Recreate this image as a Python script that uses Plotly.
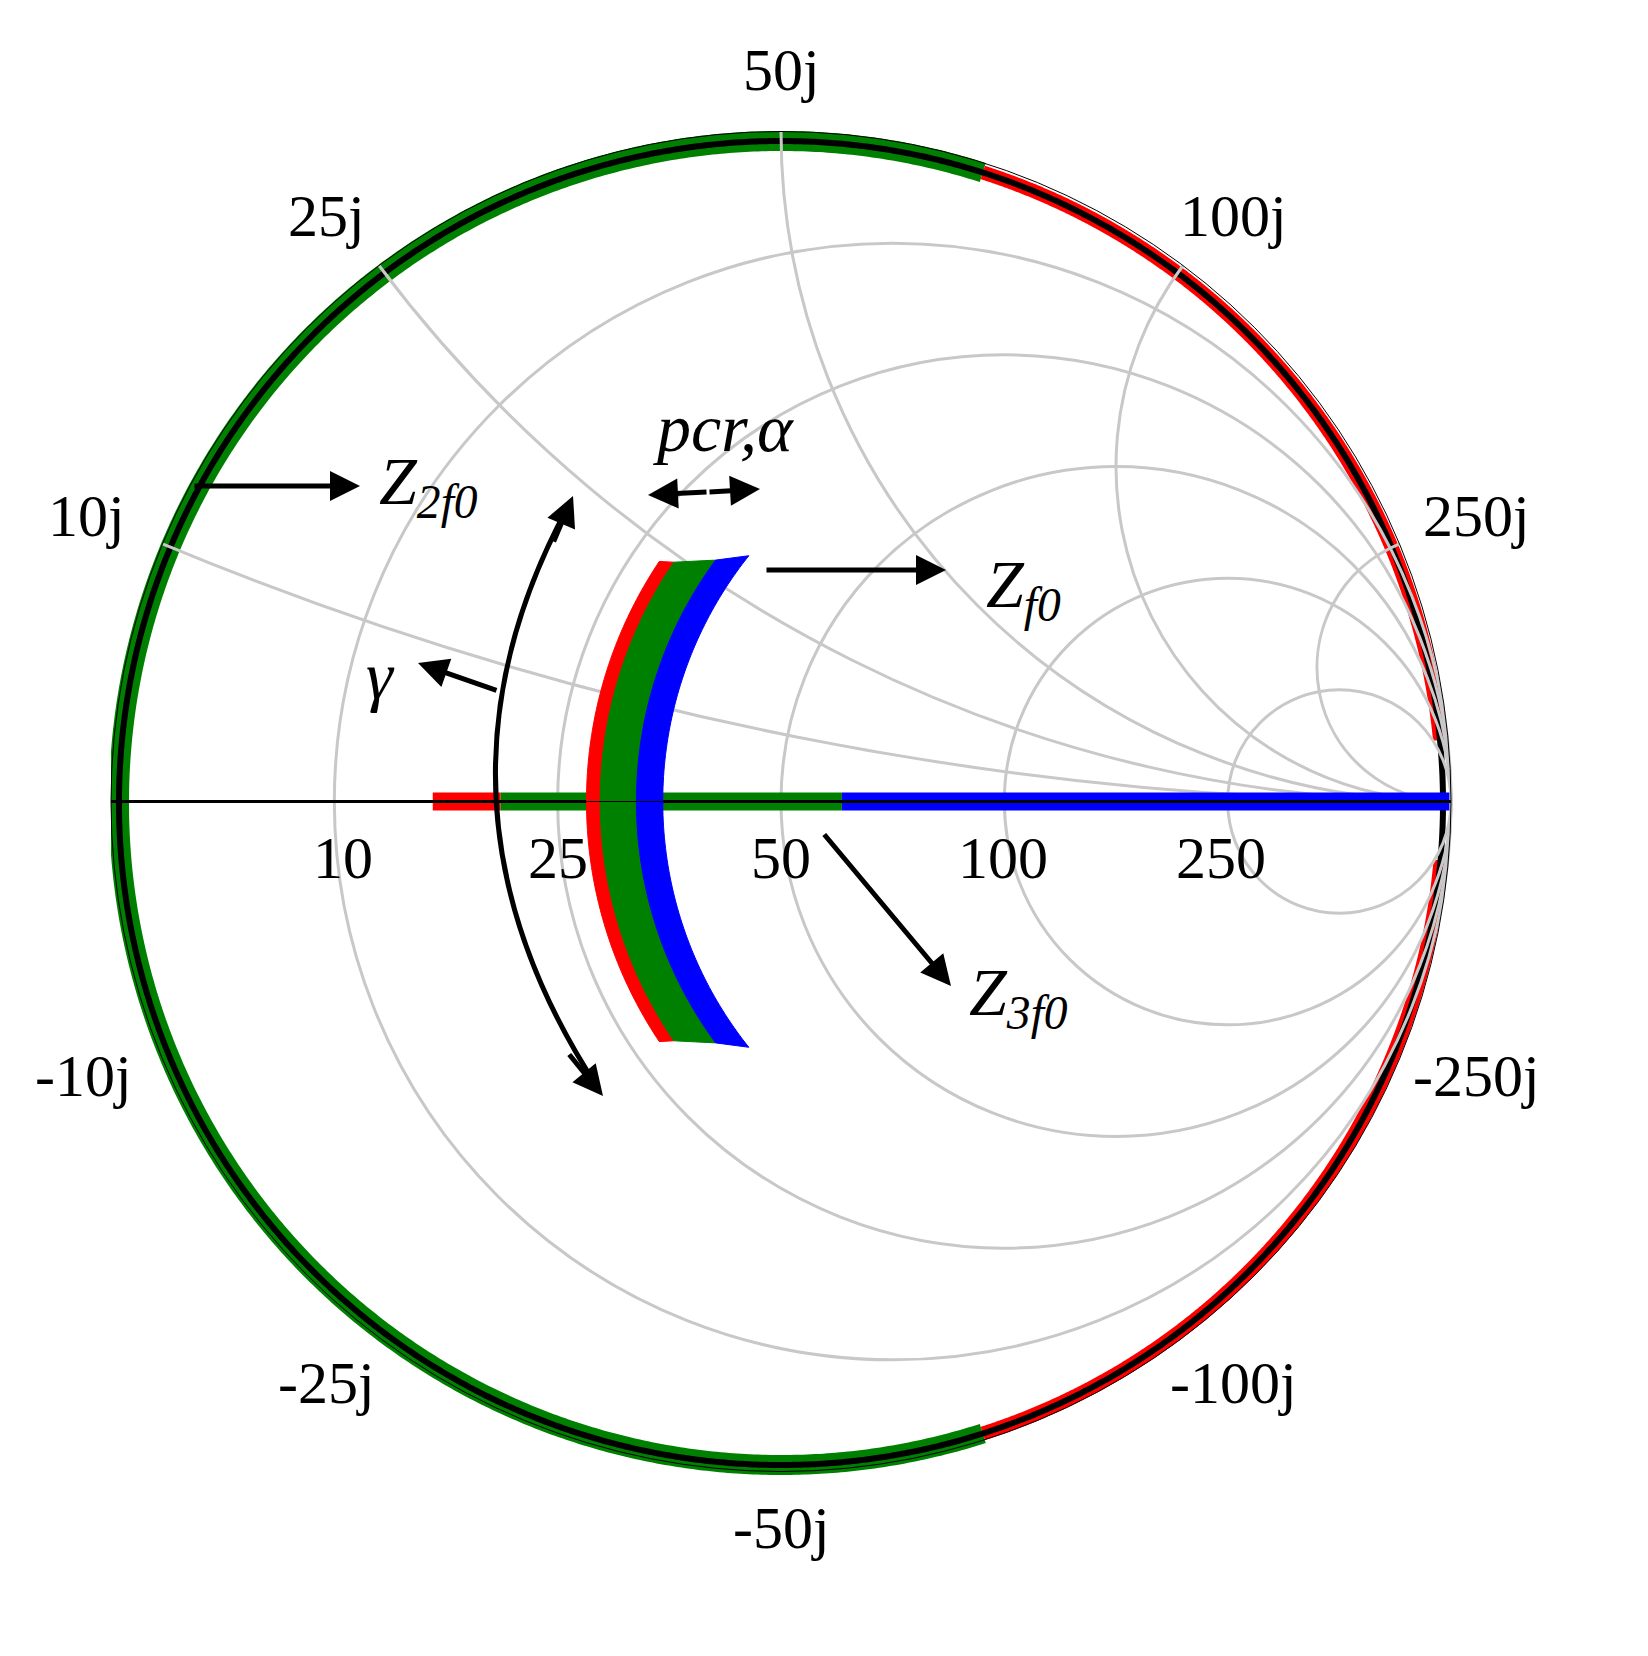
import numpy as np
import plotly.graph_objects as go

W, H = 1648, 1656
Z0 = 50.0
grid_vals = [0.2, 0.5, 1, 2, 5]
real_labels = ["10", "25", "50", "100", "250"]
imag_labels = ["10j", "25j", "50j", "100j", "250j"]

green_edge_x = [-68.5, 68.5]
red_edge_top = [68.5, 1050]
red_edge_bot = [-1150, -68.5]
real_red = [15.8, 20.5]
real_green = [20.5, 60]
real_blue = [60, 40000]
bands = [("red", 0.55, 0.575, 0.47, 0.485), ("green", 0.575, 0.645, 0.485, 0.54),
         ("blue", 0.645, 0.70, 0.54, 0.595)]

fig = go.Figure()

def gamma_of_reactance(x0, x1, n=600):
    t0 = 2*np.arctan2(1, x0/Z0); t1 = 2*np.arctan2(1, x1/Z0)
    th = np.linspace(t0, t1, n)
    return np.cos(th), np.sin(th)

gx, gy = gamma_of_reactance(green_edge_x[0], green_edge_x[1])
fig.add_trace(go.Scatter(x=gx, y=gy, mode="lines", line=dict(color="green", width=20, simplify=False)))
for seg in (red_edge_top, red_edge_bot):
    gx, gy = gamma_of_reactance(seg[0], seg[1])
    fig.add_trace(go.Scatter(x=gx, y=gy, mode="lines", line=dict(color="red", width=14, simplify=False)))
th = np.linspace(0, 2*np.pi, 1200)
fig.add_trace(go.Scatter(x=np.cos(th), y=np.sin(th), mode="lines",
                         line=dict(color="black", width=6, simplify=False)))

for seg, col in ((real_red, "red"), (real_green, "green"), (real_blue, "blue")):
    rr = np.geomspace(seg[0], seg[1], 100)/Z0
    fig.add_trace(go.Scattersmith(real=rr, imag=np.zeros_like(rr), mode="lines", cliponaxis=False,
                                  line=dict(color=col, width=18)))
rr = np.concatenate([[0], np.geomspace(0.001, 20000, 300)])
fig.add_trace(go.Scattersmith(real=rr, imag=np.zeros_like(rr), mode="lines",
                              line=dict(color="black", width=3)))

for col, r1, r2, xe1, xe2 in bands:
    xa = np.linspace(-xe1, xe1, 100)
    xb = np.linspace(xe2, -xe2, 100)
    re = np.concatenate([np.full(100, r1), np.full(100, r2), [r1]])
    im = np.concatenate([xa, xb, [-xe1]])
    fig.add_trace(go.Scattersmith(real=re, imag=im, mode="lines", fill="toself",
                                  fillcolor=col, line=dict(color=col, width=1)))

def P(px, py):
    return px / W, 1 - py / H

font = dict(family="Liberation Serif", size=60, color="black")
ann = []
def txt(t, px, py, f):
    X, Y = P(px, py)
    ann.append(dict(x=X, y=Y, xref="paper", yref="paper", xanchor="center", yanchor="middle",
                    text=t, showarrow=False, font=f))

real_pos = [(335, 850), (550, 850), (773, 850), (995, 850), (1213, 850)]
for t, (px, py) in zip(real_labels, real_pos):
    txt(t, px, py, font)
imag_pos = [((78, 508), (75, 1068)), ((318, 208), (318, 1375)), ((773, 62), (773, 1520)),
            ((1225, 208), (1225, 1375)), ((1468, 508), (1468, 1068))]
for t, (pp, pn) in zip(imag_labels, imag_pos):
    txt(t, *pp, font)
    txt("-" + t, *pn, font)

ifont = dict(family="Liberation Serif", size=68, color="black")
texts = [("<i>Z</i><sub><i>2f0</i></sub>", 420, 478), ("<i>Z</i><sub><i>f0</i></sub>", 1015, 580),
         ("<i>Z</i><sub><i>3f0</i></sub>", 1010, 988), ("<i>pcr,α</i>", 715, 420), ("<i>γ</i>", 372, 668)]
for t, px, py in texts:
    txt(t, px, py, ifont)

arrows = [((185, 478), (352, 478)), ((757, 562), (938, 562)), ((815, 825), (943, 978)),
          ((700, 484), (752, 481)), ((700, 484), (640, 487)), ((490, 683), (410, 655)),
          ((545, 535), (565, 488)), ((560, 1045), (595, 1088))]
for (tx, ty), (hx, hy) in arrows:
    X, Y = P(hx, hy)
    ann.append(dict(x=X, y=Y, ax=tx - hx, ay=ty - hy, xref="paper", yref="paper",
                    showarrow=True, arrowhead=2, arrowsize=1.2, arrowwidth=5, arrowcolor="black", text=""))

p0, pc, p1 = P(562, 495), P(400, 790), P(590, 1080)
shapes = [dict(type="path", xref="paper", yref="paper",
               path=f"M {p0[0]},{p0[1]} Q {pc[0]},{pc[1]} {p1[0]},{p1[1]}",
               line=dict(color="black", width=5))]

L, R, T, B = 103, 1443, 117, 1470
CX, CY, RAD = 773, 795, 662
dx0, dx1 = L / W, R / W
dy0, dy1 = 1 - B / H, 1 - T / H
fig.update_layout(
    width=W, height=H, margin=dict(l=0, r=0, t=0, b=0), showlegend=False,
    paper_bgcolor="white", plot_bgcolor="rgba(0,0,0,0)",
    annotations=ann, shapes=shapes,
    xaxis=dict(domain=[dx0, dx1], range=[(L - CX) / RAD, (R - CX) / RAD], visible=False, fixedrange=True),
    yaxis=dict(domain=[dy0, dy1], range=[(CY - B) / RAD, (CY - T) / RAD], visible=False, fixedrange=True),
    smith=dict(domain=dict(x=[dx0, dx1], y=[dy0, dy1]), bgcolor="rgba(0,0,0,0)",
               realaxis=dict(tickvals=grid_vals, showticklabels=False, gridcolor="#c8c8c8",
                             gridwidth=3, linecolor="black", ticks=""),
               imaginaryaxis=dict(tickvals=grid_vals, showticklabels=False, gridcolor="#c8c8c8",
                                  gridwidth=3, linecolor="black", ticks="")))
fig.write_html("out.html")
